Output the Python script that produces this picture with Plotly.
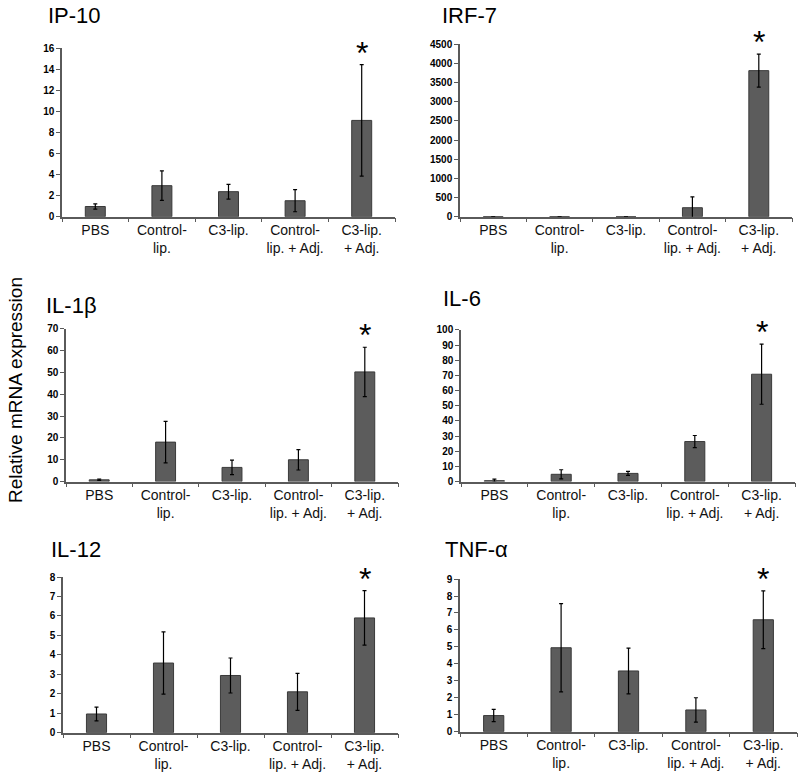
import plotly.graph_objects as go

categories = ["PBS", "Control-<br>lip.", "C3-lip.", "Control-<br>lip. + Adj.", "C3-lip.<br>+ Adj."]

ip10_vals = [0.97, 2.95, 2.38, 1.52, 9.15]
ip10_errs = [0.25, 1.4, 0.7, 1.05, 5.3]

irf7_vals = [0, 0, 0, 235, 3815]
irf7_errs = [0, 0, 0, 285, 430]

il1b_vals = [0.8, 18.1, 6.5, 10.0, 50.3]
il1b_errs = [0.3, 9.5, 3.3, 4.7, 11.3]

il6_vals = [0.6, 4.8, 5.4, 26.4, 70.8]
il6_errs = [1.0, 3.0, 1.3, 4.0, 19.8]

il12_vals = [0.96, 3.58, 2.94, 2.1, 5.9]
il12_errs = [0.35, 1.6, 0.9, 0.95, 1.4]

tnfa_vals = [0.95, 4.95, 3.58, 1.28, 6.6]
tnfa_errs = [0.36, 2.6, 1.35, 0.72, 1.7]

titles = ["IP-10", "IRF-7", "IL-1β", "IL-6", "IL-12", "TNF-α"]
y_max = [16, 4500, 70, 100, 8, 9]
y_step = [2, 500, 10, 10, 1, 1]

W, H = 800, 781
# pixel boxes: left, right, top, bottom(zero line)
boxes = [
    (62, 395, 43, 214),
    (460, 792, 39, 214),
    (66, 398, 328, 483),
    (461, 795, 329, 483),
    (63, 398, 580, 738),
    (460, 797, 582, 737),
]
# title positions (left x, centre y) in pixels
title_pos = [(46, 15), (440, 15), (44, 309), (441, 302), (49, 557), (443, 557)]

series = [
    (ip10_vals, ip10_errs),
    (irf7_vals, irf7_errs),
    (il1b_vals, il1b_errs),
    (il6_vals, il6_errs),
    (il12_vals, il12_errs),
    (tnfa_vals, tnfa_errs),
]

fig = go.Figure()
annotations = []
axis_line = "#5a5a5a"

for i, ((vals, errs), (l, r, t, b)) in enumerate(zip(series, boxes)):
    n = "" if i == 0 else str(i + 1)
    fig.add_trace(go.Bar(
        x=categories, y=vals,
        xaxis="x" + n, yaxis="y" + n,
        width=0.3,
        marker=dict(color="#5c5c5c", line=dict(color="#3a3a3a", width=1)),
        error_y=dict(type="data", array=errs, color="black", thickness=1.2, width=2),
        showlegend=False,
    ))
    fig.update_layout({
        "xaxis" + n: dict(
            domain=[l / W, r / W], anchor="y" + n,
            showline=True, linecolor=axis_line, linewidth=1.5,
            ticks="outside", tickson="boundaries", ticklen=4, tickcolor=axis_line,
            tickfont=dict(family="Liberation Sans, Arial", size=14, color="#111"),
            showgrid=False, fixedrange=True,
        ),
        "yaxis" + n: dict(
            domain=[1 - b / H, 1 - t / H], anchor="x" + n,
            range=[0, y_max[i]], dtick=y_step[i],
            showline=True, linecolor=axis_line, linewidth=1.5,
            ticks="outside", ticklen=4, tickcolor=axis_line,
            tickfont=dict(family="Liberation Sans, Arial", size=10, color="#000", weight="bold"),
            showgrid=False, zeroline=False, fixedrange=True,
        ),
    })
    # panel title
    tx, ty = title_pos[i]
    annotations.append(dict(
        text=titles[i], xref="paper", yref="paper",
        x=tx / W, y=1 - (ty - 5) / H,
        xanchor="left", yanchor="middle", showarrow=False,
        font=dict(family="Liberation Sans, Arial", size=22, color="black"),
    ))
    # significance star
    annotations.append(dict(
        text="*", xref="x" + n, yref="y" + n,
        x=categories[4], y=vals[4] + errs[4],
        yanchor="bottom", yshift=-8, showarrow=False,
        font=dict(family="Liberation Sans, Arial", size=32, color="black"),
    ))

annotations.append(dict(
    text="Relative mRNA expression", xref="paper", yref="paper",
    x=15 / W, y=1 - 390 / H, textangle=-90, showarrow=False,
    xanchor="center", yanchor="middle",
    font=dict(family="Liberation Sans, Arial", size=19, color="black"),
))

fig.update_layout(
    width=W, height=H,
    margin=dict(l=0, r=0, t=0, b=0),
    paper_bgcolor="white", plot_bgcolor="white",
    bargap=0.7,
    annotations=annotations,
)

fig.write_html("out.html", config={"displayModeBar": False},
               post_script="document.body.style.margin='0';")
